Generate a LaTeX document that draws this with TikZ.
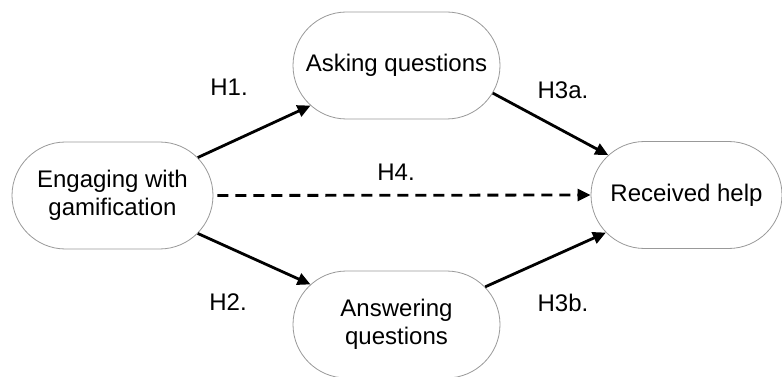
\documentclass[tikz,border=0pt]{standalone}
\usepackage{fontspec}
\setmainfont{Liberation Sans}
\usetikzlibrary{shapes.misc,arrows.meta}
\begin{document}
\begin{tikzpicture}[x=1pt,y=-1pt,
  varbox/.style={rounded rectangle, draw=black!40, line width=0.8pt, fill=white,
    minimum height=107pt, inner sep=0pt, align=center,
    font=\fontsize{24}{28}\selectfont},
  hyp/.style={font=\fontsize{24}{28}\selectfont, inner sep=0pt},
  link/.style={line width=2.8pt, -{Triangle[length=13pt,width=12pt]}},
  dashlink/.style={link, dash pattern=on 11pt off 7pt}]
\useasboundingbox (0,0) rectangle (782,377);
\node[varbox, minimum width=201pt] (L) at (112.5,195.5) {Engaging with\\gamification};
\node[varbox, minimum width=207pt] (A) at (396.5,65.5) {Asking questions};
\node[varbox, minimum width=207pt] (N) at (396.5,324.5) {Answering\\questions};
\node[varbox, minimum width=191pt] (R) at (686.5,195) {Received help};
\draw[link] (L.24) -- (A.205.6);
\draw[link] (L.336) -- (N.155.7);
\draw[link] (A.344.5) -- (R.153.3);
\draw[link] (N.23.2) -- (R.205.3);
\draw[dashlink, shorten <=4pt] (L.0) -- (R.180);
\node[hyp] (h1) at (229,87) {H1.};
\node[hyp] (h2) at (228,302) {H2.};
\node[hyp] (h3a) at (563,90) {H3a.};
\node[hyp] (h3b) at (563,303) {H3b.};
\node[hyp] (h4) at (396,172) {H4.};
\end{tikzpicture}
\end{document}
